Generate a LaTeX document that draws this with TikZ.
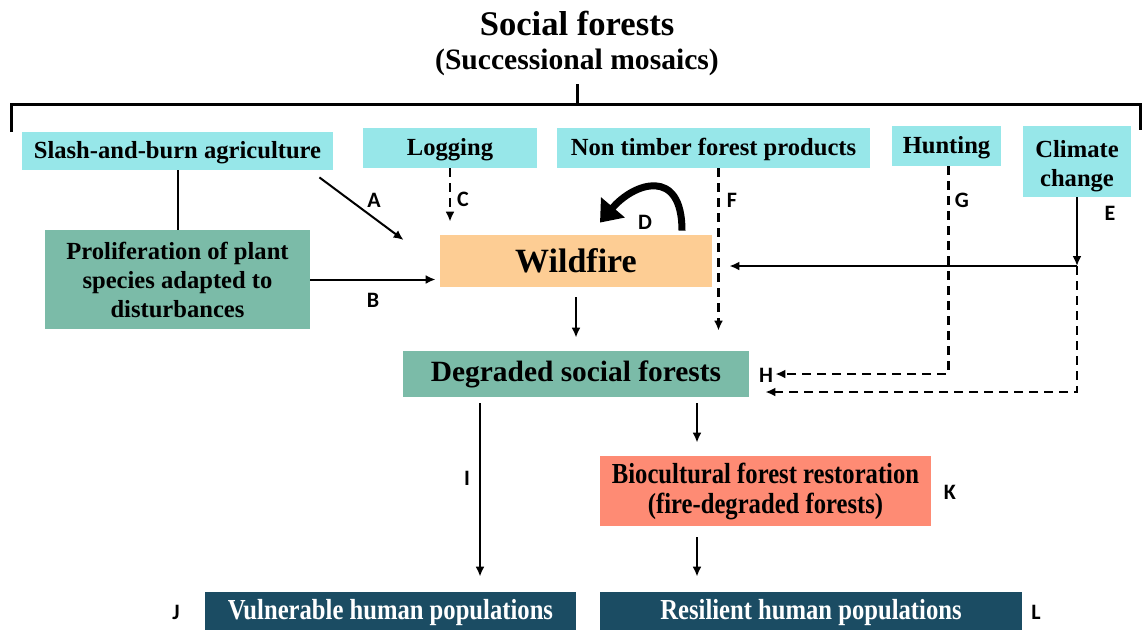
\documentclass[tikz,border=0pt]{standalone}
\usepackage{fontspec}
\setmainfont{Liberation Serif}
\newfontfamily\condfont[FakeStretch=0.85]{Liberation Serif}
\newfontfamily\tagfont{Carlito}
\usetikzlibrary{positioning,arrows.meta,calc}
\definecolor{drivfill}{HTML}{97E7E9}
\definecolor{statefill}{HTML}{7BBBA8}
\definecolor{firefill}{HTML}{FDCD94}
\definecolor{restfill}{HTML}{FE8B74}
\definecolor{peoplefill}{HTML}{1B4C63}
\tikzset{
  box/.style     = {inner sep=2pt, align=center, font=\bfseries\fontsize{12.3}{14.5}\selectfont},
  oneline/.style = {text height=1em, text depth=0.25em},
  driver/.style  = {box, fill=drivfill},
  state/.style   = {box, fill=statefill},
  fire/.style    = {box, fill=firefill, font=\bfseries\fontsize{17}{20}\selectfont},
  restore/.style = {box, fill=restfill, font=\condfont\bfseries\fontsize{14.5}{15}\selectfont},
  people/.style  = {box, fill=peoplefill, text=white, font=\condfont\bfseries\fontsize{14.5}{15}\selectfont},
  flow/.style    = {-{Latex[length=5pt,width=4.5pt]}, line width=1pt},
  dflow/.style   = {flow, line width=1.3pt, dash pattern=on 4.5pt off 3pt},
  bigloop/.style = {-{Triangle[length=10pt,width=15pt]}, line width=3.5pt},
  tag/.style     = {font=\tagfont\bfseries\fontsize{11}{13}\selectfont},
}

\begin{document}
\begin{tikzpicture}[x=0.5pt, y=-0.5pt]
\useasboundingbox (0,0) rectangle (1142,629);

%% header
\node[font=\bfseries\fontsize{17.3}{20}\selectfont] (title) at (577,23) {Social forests};
\node[font=\bfseries\fontsize{14.8}{17}\selectfont] (sub) at (577,62) {(Successional mosaics)};
\draw[line width=1.5pt] (11,132) -- (11,104) -- (1140,104) -- (1140,130);
\draw[line width=1.5pt] ($(sub.south)+(0,2)$) -- (577,104);

%% drivers
\node[driver, oneline, minimum width=155.5pt, minimum height=19pt] (slash) at (177.5,151) {Slash-and-burn agriculture};
\node[driver, oneline, minimum width=87pt, minimum height=20pt]    (log)   at (450,148)   {Logging};
\node[driver, oneline, minimum width=156.5pt, minimum height=20pt] (ntfp)  at (713.5,148) {Non timber forest products};
\node[driver, oneline, minimum width=54.5pt, minimum height=20pt]  (hunt)  at (946.5,146) {Hunting};
\node[driver, minimum width=54pt, minimum height=35.5pt]  (clim)  at (1077,161.5) {\rule{0pt}{1.1em}Climate\\change};

%% states
\node[state, minimum width=132.5pt, minimum height=49.5pt] (prolif) at (177.5,279.5)
  {Proliferation of plant\\species adapted to\\disturbances};
\node[fire, minimum width=136pt, minimum height=26pt] (wild) at (576,261) {Wildfire};
\node[state, oneline, minimum width=173pt, minimum height=23pt, font=\bfseries\fontsize{14.7}{17}\selectfont] (degr) at (576,374)
  {Degraded social forests};
\node[restore, minimum width=165.5pt, minimum height=35pt] (bio) at (765.5,491)
  {Biocultural forest restoration\\(fire-degraded forests)};
\node[people, oneline, minimum width=185.5pt, minimum height=20pt] (vuln) at (390.5,612) {Vulnerable human populations};
\node[people, oneline, minimum width=211pt, minimum height=20pt]   (resil) at (811,612) {Resilient human populations};

%% joints
\coordinate (ejoin) at (clim.south |- 0,266);

%% flows
\draw[line width=1pt] (slash.south) -- (prolif.north);
\draw[flow] ($(slash.south east)+(-14,7)$) -- ($(wild.west)+(-36,-21)$);
\draw[flow, shorten >=2pt] (prolif.east) -- (prolif.east -| wild.west);
\draw[dflow, shorten >=6.5pt] (log.south) -- (log.south |- wild.north);
\draw[bigloop] ($(wild.north)+(106,-4)$) .. controls +(0,-64) and +(34,-40) .. ($(wild.north)+(24,-12)$);
\draw[dflow, shorten >=10pt] ($(ntfp.south)+(5,0)$) coordinate (f0) -- (f0 |- degr.north);
\draw[flow] (clim.south) -- (ejoin);
\draw[flow, shorten >=8.5pt] (ejoin) -- (ejoin -| wild.east);
\draw[dflow, shorten >=13pt] ($(hunt.south)+(2,0)$) |- (degr.east);
\draw[dflow, shorten >=8pt] (ejoin) |- ($(degr.east)+(0,18)$);
\draw[flow, shorten <=5pt, shorten >=6.5pt] (wild.south) -- (degr.north);
\draw[flow, shorten <=3pt, shorten >=7.5pt] ($(degr.south)+(-96,0)$) coordinate (i0) -- (i0 |- vuln.north);
\draw[flow, shorten <=3pt, shorten >=6.5pt] ($(degr.south)+(121,0)$) coordinate (k0) -- (k0 |- bio.north);
\draw[flow, shorten <=5.5pt, shorten >=7.5pt] ($(bio.south)+(-68.5,0)$) coordinate (l0) -- (l0 |- resil.north);

%% letters
\node[tag] (tA) at (374,200) {A};
\node[tag] (tB) at (373,300) {B};
\node[tag] (tC) at (463,199) {C};
\node[tag] (tD) at (645,222) {D};
\node[tag] (tE) at (1110,213) {E};
\node[tag] (tF) at (732,200) {F};
\node[tag] (tG) at (962,200) {G};
\node[tag] (tH) at (766,375) {H};
\node[tag] (tI) at (467,478) {I};
\node[tag] (tJ) at (176,612) {J};
\node[tag] (tK) at (950,492) {K};
\node[tag] (tL) at (1036,612) {L};

\end{tikzpicture}
\end{document}
